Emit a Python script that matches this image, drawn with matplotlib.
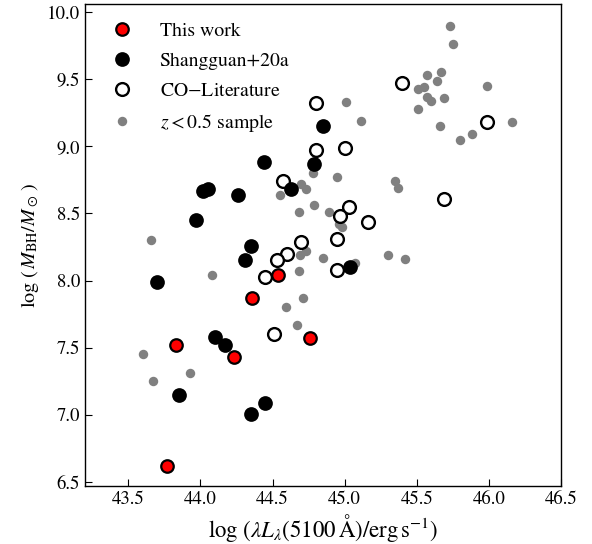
import matplotlib
matplotlib.use("Agg")
import matplotlib.pyplot as plt
from matplotlib.lines import Line2D

plt.rcParams["font.family"] = ["STIXGeneral", "DejaVu Serif"]
plt.rcParams["mathtext.fontset"] = "stix"

# This work
this_x = [44.54, 44.36, 44.76, 43.83, 44.23, 43.77]
this_y = [8.04, 7.87, 7.57, 7.52, 7.43, 6.62]

# Shangguan+20a
sg_x = [44.85, 44.44, 44.79, 44.63, 44.02, 44.05, 44.26, 43.97, 44.35, 44.31,
        43.70, 45.04, 44.10, 44.17, 43.85, 44.45, 44.35]
sg_y = [9.15, 8.88, 8.87, 8.68, 8.67, 8.68, 8.64, 8.45, 8.26, 8.15,
        7.99, 8.10, 7.58, 7.52, 7.15, 7.09, 7.01]

# CO literature sample
co_x = [44.80, 44.80, 45.00, 45.40, 45.99, 44.57, 45.69, 45.03, 44.97, 45.16,
        44.95, 44.70, 44.60, 44.53, 44.95, 44.45, 44.51]
co_y = [9.32, 8.97, 8.99, 9.47, 9.18, 8.74, 8.61, 8.55, 8.48, 8.44,
        8.31, 8.29, 8.20, 8.15, 8.08, 8.03, 7.60]

# z < 0.5 comparison sample
lz_x = [45.73, 45.75, 45.67, 45.57, 45.64, 45.51, 45.55, 45.99, 45.57, 45.60,
        45.69, 45.51, 45.01, 45.11, 45.66, 46.16, 45.88, 45.80, 44.78, 44.95,
        44.70, 44.73, 44.55, 45.35, 45.37, 44.79, 44.68, 44.89, 44.96, 44.98,
        43.66, 44.69, 44.73, 44.85, 45.07, 45.30, 45.42, 44.68, 44.08, 44.71,
        44.59, 44.67, 43.60, 43.67, 43.93]
lz_y = [9.90, 9.76, 9.55, 9.53, 9.49, 9.43, 9.44, 9.45, 9.37, 9.34,
        9.36, 9.28, 9.33, 9.19, 9.15, 9.18, 9.09, 9.05, 8.80, 8.77,
        8.72, 8.68, 8.64, 8.74, 8.69, 8.56, 8.51, 8.51, 8.42, 8.40,
        8.30, 8.19, 8.22, 8.17, 8.13, 8.19, 8.16, 8.07, 8.04, 7.87,
        7.80, 7.67, 7.45, 7.25, 7.31]

fig = plt.figure(figsize=(5.92, 5.44), dpi=100)
ax = fig.add_axes([0.1436, 0.1066, 0.8041, 0.8860])

ax.plot(lz_x, lz_y, ls="none", marker="o", ms=6.8, mfc="grey", mec="none", zorder=2)
ax.plot(co_x, co_y, ls="none", marker="o", ms=9.2, mfc="white", mec="black", mew=1.7, zorder=3)
ax.plot(sg_x, sg_y, ls="none", marker="o", ms=10.6, mfc="black", mec="none", zorder=4)
ax.plot(this_x, this_y, ls="none", marker="o", ms=9.0, mfc="red", mec="black", mew=1.6, zorder=5)

handles = [
    Line2D([], [], ls="none", marker="o", ms=9.0, mfc="red", mec="black", mew=1.6),
    Line2D([], [], ls="none", marker="o", ms=10.6, mfc="black", mec="none"),
    Line2D([], [], ls="none", marker="o", ms=9.2, mfc="white", mec="black", mew=1.7),
    Line2D([], [], ls="none", marker="o", ms=6.8, mfc="grey", mec="none"),
]
labels = ["This work", "Shangguan+20a", "CO$-$Literature", r"$z<0.5$ sample"]
ax.legend(handles, labels, loc="upper left", frameon=False, fontsize=14.2,
          handlelength=2.0, handletextpad=0.88, labelspacing=0.62,
          borderpad=0.4, borderaxespad=0.5)

ax.set_xlim(43.2, 46.5)
ax.set_ylim(6.47, 10.06)
ax.set_xticks([43.5, 44.0, 44.5, 45.0, 45.5, 46.0, 46.5])
ax.set_yticks([6.5, 7.0, 7.5, 8.0, 8.5, 9.0, 9.5, 10.0])
ax.set_xticklabels(["43.5", "44.0", "44.5", "45.0", "45.5", "46.0", "46.5"])
ax.set_yticklabels(["6.5", "7.0", "7.5", "8.0", "8.5", "9.0", "9.5", "10.0"])
ax.tick_params(direction="in", labelsize=13.5, length=5, width=0.8)
for sp in ax.spines.values():
    sp.set_linewidth(1.0)

ax.set_xlabel(r"$\log\,(\lambda L_\lambda(5100\,\mathrm{\AA})/\mathrm{erg\,s^{-1}})$",
              fontsize=16.5, labelpad=3)
ax.set_ylabel(r"$\log\,(\,M_{\rm BH}/M_\odot\,)$", fontsize=14.5)

fig.savefig("out.png", dpi=100)
